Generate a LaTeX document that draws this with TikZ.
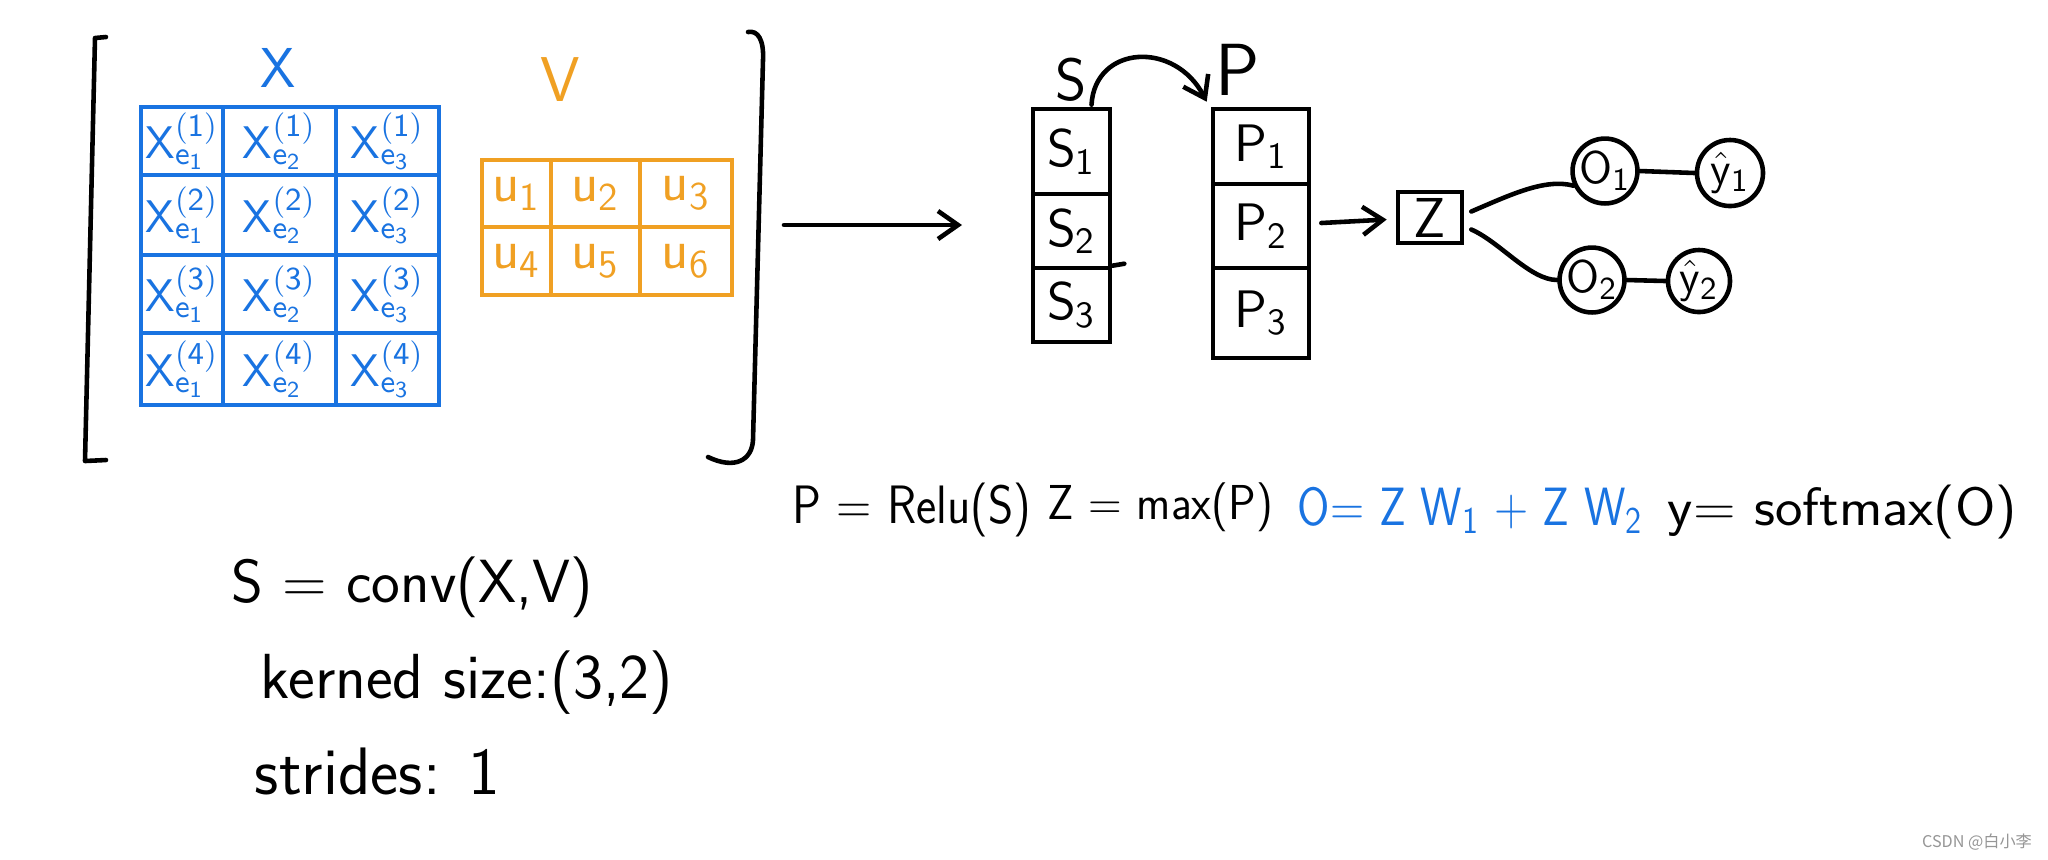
\documentclass[tikz,border=0pt]{standalone}
\usepackage{graphicx}
\usepackage{fontspec}
\usetikzlibrary{arrows.meta}
\newfontfamily\cjkfont{Noto Sans CJK SC}
\renewcommand{\familydefault}{\sfdefault}
\definecolor{xblue}{RGB}{25,115,225}
\definecolor{vorange}{RGB}{240,160,35}
\definecolor{wmgray}{RGB}{150,150,150}
\newcommand{\fitw}[2]{\resizebox{#1}{!}{#2}}
\newcommand{\fitwh}[3]{\resizebox*{#1}{#2}{#3}}
\newcommand{\xe}[2]{$\mathsf{X}^{\mathsf{(#1)}}_{\mathsf{e}_{\mathsf{#2}}}$}
\newcommand{\ue}[1]{$\mathsf{u}_{\mathsf{#1}}$}
\newcommand{\se}[2]{$\mathsf{#1}_{\mathsf{#2}}$}
\newcommand{\yh}[1]{$\hat{\mathsf{y}}_{\mathsf{#1}}$}
\tikzset{
  hand/.style={line width=1.3pt, line cap=round, line join=round},
  xcell/.style={draw=xblue, line width=1.1pt, inner sep=0pt, text=xblue, font=\fontsize{13}{15}\selectfont},
  vcell/.style={draw=vorange, line width=1.1pt, inner sep=0pt, text=vorange, font=\fontsize{16}{18}\selectfont},
  kcell/.style={draw=black, line width=1.3pt, inner sep=0pt, minimum width=#1, font=\fontsize{15}{17}\selectfont},
  circ/.style={circle, draw=black, line width=1.3pt, inner sep=0pt, minimum size=#1, font=\fontsize{13}{15}\selectfont},
  barb/.style={-{Straight Barb[length=2mm,width=2.8mm,line width=1.3pt]}},
  bigtxt/.style={inner sep=0pt, font=\fontsize{18}{21}\selectfont},
}
\begin{document}
\begin{tikzpicture}[x=0.01cm,y=-0.01cm]
\useasboundingbox (0,0) rectangle (2048,859);
\fill[white] (0,0) rectangle (2048,859);

% brackets
\draw[hand] (106,37) -- (95,38) -- (85,461) -- (106,460);
\draw[hand] (748,32) .. controls (758,30) and (764,40) .. (763,60) -- (753,440) .. controls (752,460) and (735,470) .. (708,457);

% labels X and V
\node[text=xblue, font=\fontsize{16}{18}\selectfont] (lX) at (278,68) {X};
\node[text=vorange, font=\fontsize{18}{20}\selectfont] (lV) at (560,80) {V};

% X grid
\node[xcell, minimum width=8.2mm,  minimum height=6.8mm] (x11) at (182,141) {\xe11};
\node[xcell, minimum width=11.3mm, minimum height=6.8mm] (x12) at (279.5,141) {\xe12};
\node[xcell, minimum width=10.3mm, minimum height=6.8mm] (x13) at (387.5,141) {\xe13};
\node[xcell, minimum width=8.2mm,  minimum height=8.0mm] (x21) at (182,215) {\xe21};
\node[xcell, minimum width=11.3mm, minimum height=8.0mm] (x22) at (279.5,215) {\xe22};
\node[xcell, minimum width=10.3mm, minimum height=8.0mm] (x23) at (387.5,215) {\xe23};
\node[xcell, minimum width=8.2mm,  minimum height=7.8mm] (x31) at (182,294) {\xe31};
\node[xcell, minimum width=11.3mm, minimum height=7.8mm] (x32) at (279.5,294) {\xe32};
\node[xcell, minimum width=10.3mm, minimum height=7.8mm] (x33) at (387.5,294) {\xe33};
\node[xcell, minimum width=8.2mm,  minimum height=7.2mm] (x41) at (182,369) {\xe41};
\node[xcell, minimum width=11.3mm, minimum height=7.2mm] (x42) at (279.5,369) {\xe42};
\node[xcell, minimum width=10.3mm, minimum height=7.2mm] (x43) at (387.5,369) {\xe43};

% V grid
\node[vcell, minimum width=6.9mm, minimum height=6.7mm] (v1) at (516.5,193.5) {\ue1};
\node[vcell, minimum width=8.9mm, minimum height=6.7mm] (v2) at (595.5,193.5) {\ue2};
\node[vcell, minimum width=9.2mm, minimum height=6.7mm] (v3) at (686,193.5) {\ue3};
\node[vcell, minimum width=6.9mm, minimum height=6.8mm] (v4) at (516.5,261) {\ue4};
\node[vcell, minimum width=8.9mm, minimum height=6.8mm] (v5) at (595.5,261) {\ue5};
\node[vcell, minimum width=9.2mm, minimum height=6.8mm] (v6) at (686,261) {\ue6};

% big arrow
\coordinate (bigA) at (784,225);
\coordinate (bigB) at (962,225);
\draw[hand, barb] (bigA) -- (bigB);

% S column
\node[font=\fontsize{17}{19}\selectfont] (lS) at (1071,80) {S};
\node[kcell=7.7mm, minimum height=8.5mm] (s1) at (1071.5,151.5) {\se S1};
\node[kcell=7.7mm, minimum height=7.4mm] (s2) at (1071.5,231) {\se S2};
\node[kcell=7.7mm, minimum height=7.4mm] (s3) at (1071.5,305) {\se S3};
\draw[hand] (s3.north east) -- ++(12,-2);

% P column
\node[font=\fontsize{21}{23}\selectfont] (lP) at (1238,70) {P};
\node[kcell=9.6mm, minimum height=7.5mm] (p1) at (1261,146.5) {\se P1};
\node[kcell=9.6mm, minimum height=8.4mm] (p2) at (1261,226) {\se P2};
\node[kcell=9.6mm, minimum height=9.0mm] (p3) at (1261,313) {\se P3};

% S -> P curved arrow
\draw[hand, barb] ([shift={(20,-2)}]s1.north) .. controls (1095,45) and (1175,40) .. ([shift={(-4,-5)}]p1.north west);

% Z box
\node[draw=black, line width=1.3pt, minimum width=6.4mm, minimum height=5.1mm, inner sep=0pt, font=\fontsize{16}{18}\selectfont] (zb) at (1430,217.5) {Z};
\draw[hand, barb] ([shift={(10,-3)}]p2.east) -- ([shift={(-9,2)}]zb.west);

% output circles
\node[circ=6.4mm] (o1) at (1605,171) {\se O1};
\node[circ=6.6mm] (y1) at (1730,173) {\yh1};
\node[circ=6.0mm] (o2) at (1592,280) {\se O2};
\node[circ=6.2mm] (y2) at (1699,281) {\yh2};
\draw[hand] ([shift={(7,-6)}]zb.east) .. controls (1510,195) and (1545,178) .. (o1.205);
\draw[hand] ([shift={(7,12)}]zb.east) .. controls (1500,242) and (1530,280) .. (o2.west);
\draw[hand] (o1.east) -- (y1.west);
\draw[hand] (o2.east) -- (y2.west);

% equations
\node[bigtxt] (eq1) at (912,510) {\fitwh{2.38cm}{5.4mm}{P = Relu(S)}};
\node[bigtxt] (eq2) at (1160.5,507) {\fitwh{2.25cm}{4.9mm}{Z = max(P)}};
\node[bigtxt, text=xblue] (eq3) at (1470.5,510) {\fitwh{3.45cm}{4.6mm}{O= Z W$_{\mathsf{1}}$ + Z W$_{\mathsf{2}}$}};
\node[bigtxt] (eq4) at (1842.5,512) {\fitwh{3.49cm}{5.4mm}{y= softmax(O)}};

% left text
\node[bigtxt] (t1) at (412.5,587) {\fitw{3.61cm}{S = conv(X,V)}};
\node[bigtxt] (t2) at (467,683) {\fitw{4.12cm}{kerned size:(3,2)}};
\node[bigtxt] (t3) at (377.5,771) {\fitw{2.45cm}{strides: 1}};

% watermark
\node[font=\cjkfont\fontsize{4.6}{5}\selectfont, text=wmgray, inner sep=0pt] (wm) at (1977,842) {CSDN @白小李};
\end{tikzpicture}
\end{document}
